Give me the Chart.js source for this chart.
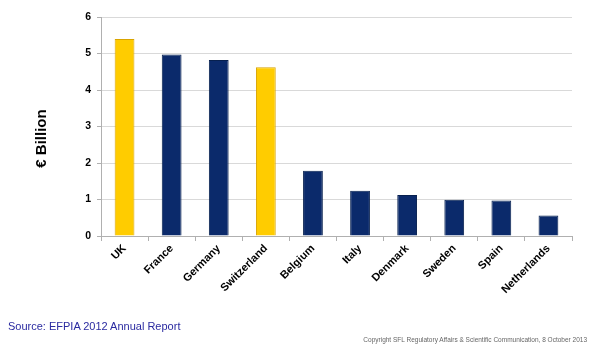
<!DOCTYPE html>
<html>
<head>
<meta charset="utf-8">
<script src="https://cdn.jsdelivr.net/npm/chart.js@4"></script>
<style>
  body { margin: 0; background: #fff; }
  #wrap { position: relative; width: 589px; height: 347px; }
  #source { position: absolute; left: 8px; top: 320px; font: 11px "Liberation Sans", Arial, sans-serif; color: #2a2aa0; }
  #copy { position: absolute; right: 2px; top: 336px; font: 6.5px "Liberation Sans", Arial, sans-serif; color: #666; }
</style>
</head>
<body>
<div id="wrap">
  <canvas id="EfpiaChart" width="589" height="347"></canvas>
  <div id="source">Source: EFPIA 2012 Annual Report</div>
  <div id="copy">Copyright SFL Regulatory Affairs &amp; Scientific Communication, 8 October 2013</div>
</div>
<script>
const countries = ["UK", "France", "Germany", "Switzerland", "Belgium", "Italy", "Denmark", "Sweden", "Spain", "Netherlands"];
const billions = [5.40, 4.97, 4.82, 4.62, 1.79, 1.24, 1.12, 0.99, 0.97, 0.56];
const highlighted = ["UK", "Switzerland"];
const yTitle = "€ Billion";

const yellow = "#ffcc00";
const navy = "#0b2a6b";

// y title sits a bit below the middle of the axis in the original slide
const yTitlePlugin = {
    id: 'yTitle',
    afterDraw(chart) {
        const c = chart.ctx;
        const area = chart.chartArea;
        c.save();
        c.translate(42, (area.top + area.bottom) / 2 + 12);
        c.rotate(-Math.PI / 2);
        c.font = "bold 15px 'Liberation Sans'";
        c.fillStyle = "#000";
        c.textAlign = "center";
        c.textBaseline = "middle";
        c.fillText(yTitle, 0, 0);
        c.restore();
    }
};

let ctx = document.getElementById('EfpiaChart').getContext('2d');

new Chart(ctx, {
    type: 'bar',
    data: {
        labels: countries,
        datasets: [{
            data: billions,
            backgroundColor: countries.map(c => highlighted.includes(c) ? yellow : navy),
            borderColor: countries.map(c => highlighted.includes(c) ? "#d9a400" : "#07204f"),
            borderWidth: 1,
            barPercentage: 0.42,
            categoryPercentage: 1
        }]
    },
    plugins: [yTitlePlugin],
    options: {
        responsive: false,
        animation: false,
        layout: { padding: { top: 17, right: 17, left: 0, bottom: 0 } },
        plugins: {
            legend: { display: false },
            tooltip: { enabled: false }
        },
        scales: {
            x: {
                afterFit: s => { s.height = 111; },
                grid: { drawOnChartArea: false, drawTicks: true, tickLength: 5, color: "#b0b0b0" },
                border: { color: "#b0b0b0" },
                ticks: {
                    minRotation: 45, maxRotation: 45, padding: 1,
                    color: "#000",
                    font: { family: "Liberation Sans", size: 11, weight: "bold" }
                }
            },
            y: {
                min: 0, max: 6,
                afterFit: s => { s.width = 101; },
                grid: { color: "#d9d9d9", tickLength: 4, tickColor: "#b0b0b0" },
                border: { color: "#b0b0b0" },
                ticks: {
                    stepSize: 1, padding: 6,
                    color: "#000",
                    font: { family: "Liberation Sans", size: 10.5, weight: "bold" }
                }
            }
        }
    }
});
</script>
</body>
</html>
